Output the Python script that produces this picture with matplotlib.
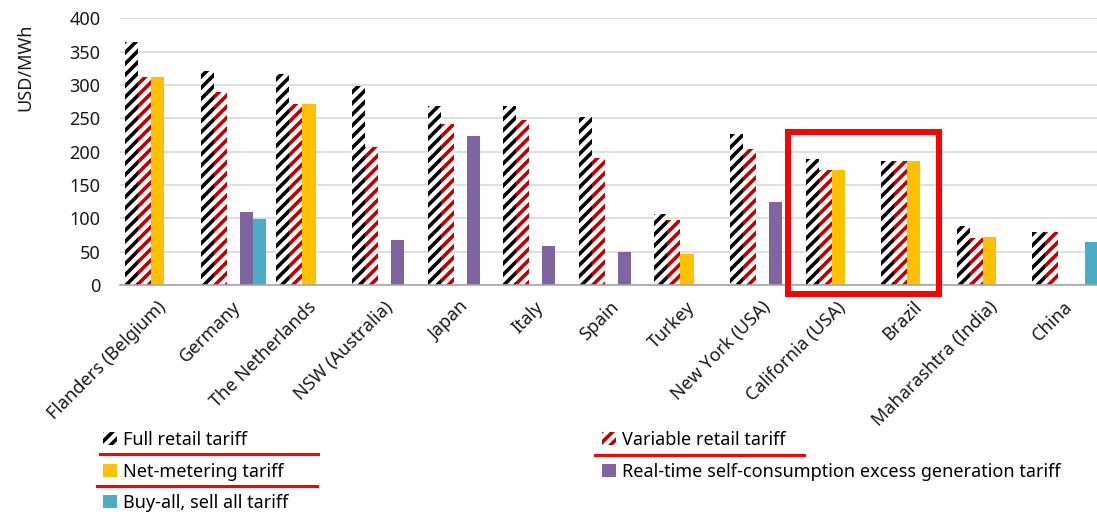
'''Bar chart of retail and export tariffs by market.'''
import matplotlib.pyplot as plt
import matplotlib.patches as patches
import matplotlib.transforms as mtransforms
from matplotlib.lines import Line2D
import numpy as np

plt.rcParams['font.family'] = ['Noto Sans', 'DejaVu Sans']
plt.rcParams['hatch.linewidth'] = 2.6

regions = ['Flanders (Belgium)', 'Germany', 'The Netherlands', 'NSW (Australia)',
           'Japan', 'Italy', 'Spain', 'Turkey', 'New York (USA)', 'California (USA)',
           'Brazil', 'Maharashtra (India)', 'China']

full_retail = [365, 321, 317, 298, 268, 268, 252, 106, 226, 189, 186, 88, 79]
variable_retail = [312, 290, 271, 207, 241, 247, 190, 97, 204, 173, 186, 71, 79]
net_metering = [312, 0, 271, 0, 0, 0, 0, 47, 0, 173, 186, 72, 0]
real_time = [0, 110, 0, 68, 224, 58, 50, 0, 124, 0, 0, 0, 0]
buy_all = [0, 99, 0, 0, 0, 0, 0, 0, 0, 0, 0, 0, 64]

series = [
	('Full retail tariff', full_retail, dict(facecolor='white', edgecolor='black', hatch='///')),
	('Variable retail tariff', variable_retail, dict(facecolor='white', edgecolor='#C00000', hatch='///')),
	('Net-metering tariff', net_metering, dict(color='#FFC000')),
	('Real-time self-consumption excess generation tariff', real_time, dict(color='#8064A2')),
	('Buy-all, sell all tariff', buy_all, dict(color='#4BACC6')),
]

W, H = 1097, 514
fig = plt.figure(figsize=(W / 100, H / 100), dpi=100)
ax_left, ax_right, ax_top, ax_bot = 120, 120 + 13 * 75.6, 18.3, 285
ax = fig.add_axes([ax_left / W, 1 - ax_bot / H, (ax_right - ax_left) / W, (ax_bot - ax_top) / H])

x = np.arange(len(regions))
bw = 0.172
handles = {}
for i, (name, vals, style) in enumerate(series):
	ax.bar(x + (i - 2) * bw, vals, width=bw, linewidth=0, zorder=2, **style)
	handles[name] = patches.Patch(linewidth=0, **style)

ax.set_xlim(-0.5, len(regions) - 0.5)
ax.set_ylim(0, 400)
ax.set_yticks(np.arange(0, 401, 50))
ax.grid(axis='y', color='#D9D9D9', linewidth=1.2, zorder=0)
ax.set_axisbelow(True)
for s in ['top', 'right', 'left']:
	ax.spines[s].set_visible(False)
ax.spines['bottom'].set_color('#A6A6A6')
ax.spines['bottom'].set_linewidth(1.2)
ax.tick_params(axis='y', length=0, pad=14, labelsize=13, labelcolor='#1a1a1a')
ax.tick_params(axis='x', length=0, pad=14, labelsize=13, labelcolor='#1a1a1a')
ax.set_xticks(x)
ax.set_xticklabels(regions, rotation=45, ha='right', va='center', rotation_mode='anchor')
shift = mtransforms.ScaledTranslation(5 / 100, 0, fig.dpi_scale_trans)
for lbl in ax.get_xticklabels():
	lbl.set_transform(lbl.get_transform() + shift)

fig.text(25 / W, 1 - 67 / H, 'USD/MWh', rotation=90, ha='center', va='center',
		 fontsize=13, color='#1a1a1a')

# red highlight box around California and Brazil
ax.add_patch(patches.Rectangle((8.34, -14), 1.99, 244, fill=False, edgecolor='#FF0000',
							   linewidth=4.3, clip_on=False, zorder=5))

leg_kw = dict(frameon=False, fontsize=13, handlelength=0.75, handleheight=0.75,
			  handletextpad=0.35, labelspacing=0.75, borderpad=0, borderaxespad=0)
col1 = ['Full retail tariff', 'Net-metering tariff', 'Buy-all, sell all tariff']
col2 = ['Variable retail tariff', 'Real-time self-consumption excess generation tariff']
leg1 = fig.legend([handles[n] for n in col1], col1, loc='upper left',
				  bbox_to_anchor=(103 / W, 1 - 431 / H), **leg_kw)
leg2 = fig.legend([handles[n] for n in col2], col2, loc='upper left',
				  bbox_to_anchor=(602 / W, 1 - 431 / H), **leg_kw)

# red underlines under legend entries
for x0, x1, y in [(100, 318, 454), (97, 317, 486), (595, 804, 455)]:
	fig.add_artist(Line2D([x0 / W, x1 / W], [1 - y / H, 1 - y / H], color='#FF0000',
						  linewidth=2.2, transform=fig.transFigure))

fig.savefig('out.png', dpi=100)
